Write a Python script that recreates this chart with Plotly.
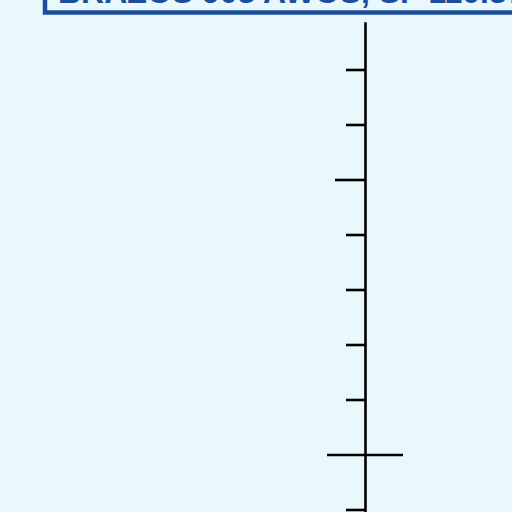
import plotly.graph_objects as go

# ---- data ----
tick_levels = [0, 1, 2, 3, 4, 5, 6, 7, 8]
tick_kinds = ["minor", "cross", "minor", "minor", "minor", "minor", "major", "minor", "minor"]
title_text = "BRAZOS 903 AWOS, SF 110.37"

# ---- styling / geometry (pixel units on x, level units on y) ----
BG = "#E8F8FC"
BLUE = "#1D4E9B"
AXIS_X = 365.5
AXIS_TOP = 8.87
left_len = {"minor": 19.5, "major": 30.5, "cross": 38.5}
right_len = {"minor": 0, "major": 0, "cross": 37.5}

fig = go.Figure()

# main vertical axis line
fig.add_trace(go.Scatter(
    x=[AXIS_X, AXIS_X], y=[-0.2, AXIS_TOP], mode="lines",
    line=dict(color="black", width=2.6), hoverinfo="skip", showlegend=False))

# tick marks
xs, ys = [], []
for lv, kind in zip(tick_levels, tick_kinds):
    xs += [AXIS_X - left_len[kind], AXIS_X + right_len[kind], None]
    ys += [lv, lv, None]
fig.add_trace(go.Scatter(
    x=xs, y=ys, mode="lines", line=dict(color="black", width=2.6),
    hoverinfo="skip", showlegend=False, connectgaps=False))

# title box
fig.add_shape(type="rect", xref="x", yref="y",
              x0=45, x1=540, y0=(510 - 12.5) / 55, y1=10.5,
              line=dict(color=BLUE, width=4.5), fillcolor="rgba(0,0,0,0)")

fig.add_annotation(x=56 / 512, y=1 + 8 / 512, xref="paper", yref="paper",
                   text=title_text, showarrow=False,
                   xanchor="left", yanchor="middle",
                   font=dict(family="Liberation Sans", size=32, color=BLUE, weight="bold"))

fig.update_layout(
    width=512, height=512, autosize=False,
    margin=dict(l=0, r=0, t=0, b=0),
    paper_bgcolor=BG, plot_bgcolor=BG,
    xaxis=dict(range=[0, 512], visible=False, fixedrange=True),
    yaxis=dict(range=[-2 / 55, 510 / 55], visible=False, fixedrange=True),
)

fig.write_html("out.html")
